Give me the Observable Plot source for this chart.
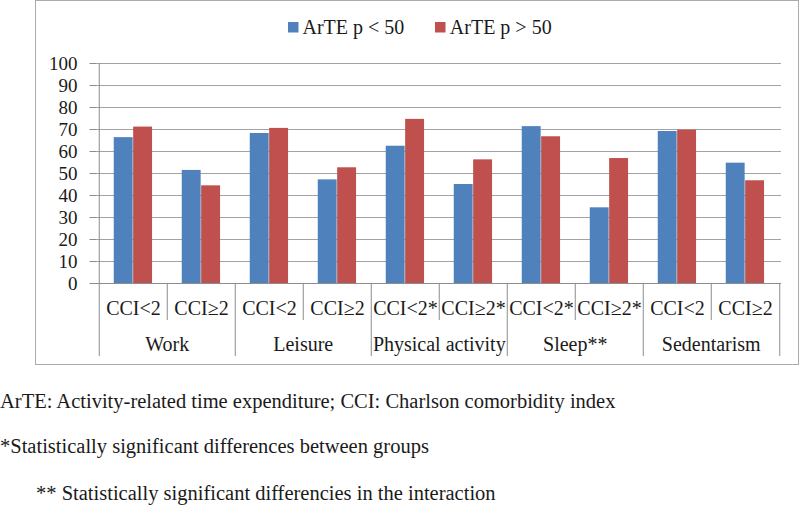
<!DOCTYPE html>
<html><head><meta charset="utf-8">
<script src="https://cdn.jsdelivr.net/npm/d3@7"></script>
<script src="https://cdn.jsdelivr.net/npm/@observablehq/plot@0.6"></script>
<style>
body{margin:0;background:#fff;width:800px;height:506px;position:relative;overflow:hidden;color:#1a1a1a}
#frame{position:absolute;left:35px;top:0px;width:762px;height:363px;border:1.5px solid #ababab;}
#chart{position:absolute;left:0;top:0}
#legend{position:absolute;left:288px;top:11px}
.note{position:absolute;font-size:20.5px;line-height:20px;white-space:nowrap}
</style></head><body style="font-family:'Liberation Serif',serif">
<div id="frame"></div>
<div id="chart"></div>
<div id="legend"></div>
<div class="note" id="n1" style="left:0;top:391px;font-family:'Liberation Serif',serif"></div>
<div class="note" id="n2" style="left:0;top:436px;font-family:'Liberation Serif',serif"></div>
<div class="note" id="n3" style="left:36px;top:482.5px;font-family:'Liberation Serif',serif"></div>
<script>
const groups = ["Work", "Leisure", "Physical activity", "Sleep**", "Sedentarism"];
const subs = [["CCI<2", "CCI≥2"], ["CCI<2", "CCI≥2"], ["CCI<2*", "CCI≥2*"], ["CCI<2*", "CCI≥2*"], ["CCI<2", "CCI≥2"]];
const series = ["ArTE p < 50", "ArTE p > 50"];
const colors = ["#4F81BD", "#C0504D"];
const bluePct = [66.3, 51.4, 68.2, 47.1, 62.4, 45.0, 71.3, 34.4, 69.1, 54.7];
const redPct = [71.1, 44.4, 70.5, 52.6, 74.6, 56.2, 66.7, 56.8, 69.7, 46.7];
const yTicks = [0, 10, 20, 30, 40, 50, 60, 70, 80, 90, 100];
const notes = [
  "ArTE: Activity-related time expenditure; CCI: Charlson comorbidity index",
  "*Statistically significant differences between groups",
  "** Statistically significant differencies in the interaction"
];

const FONT = "'Liberation Serif', serif";
const keys = [];
groups.forEach((g, i) => subs[i].forEach(s => keys.push(g + "|" + s)));
const rows = keys.flatMap((k, i) => [
  {key: k, series: series[0], value: bluePct[i]},
  {key: k, series: series[1], value: redPct[i]}
]);

const BW = 68.5, barW = 19.4, off = 14.75;
const gridC = "#a3a3a3", axisC = "#8c8c8c";

const chart = Plot.plot({
  width: 800, height: 370,
  marginTop: 63, marginBottom: 87, marginLeft: 96, marginRight: 19,
  style: {fontFamily: FONT, fontSize: "20px", color: "#1a1a1a", background: "transparent", overflow: "visible"},
  x: {domain: keys, padding: 0},
  y: {domain: [0, 100]},
  color: {domain: series, range: colors},
  marks: [
    Plot.gridY(yTicks, {stroke: gridC, strokeOpacity: 1}),
    Plot.axisY(yTicks, {tickSize: 6.5, tickPadding: 12.5, fontSize: 19, stroke: axisC, label: null}),
    Plot.barY(rows.filter(d => d.series === series[0]), {x: "key", y: "value", fill: "series", insetLeft: off, insetRight: BW - off - barW}),
    Plot.barY(rows.filter(d => d.series === series[1]), {x: "key", y: "value", fill: "series", insetLeft: off + barW, insetRight: BW - off - 2 * barW}),
    Plot.ruleY([0], {stroke: axisC}),
    Plot.axisX({tickSize: 0, tickPadding: 16.8, tickFormat: k => k.split("|")[1], fontSize: 20, label: null}),
    Plot.ruleX([keys[0]], {dx: -BW / 2, insetBottom: -73, stroke: axisC}),
    Plot.ruleX(keys.filter((k, i) => i % 2 === 0 && i > 0), {dx: -BW / 2, insetTop: 220, insetBottom: -73, stroke: axisC}),
    Plot.ruleX([keys[keys.length - 1]], {dx: BW / 2, insetTop: 220, insetBottom: -73, stroke: axisC}),
    Plot.ruleX(keys.filter((k, i) => i % 2 === 1), {dx: -BW / 2, insetTop: 220, insetBottom: -37, stroke: axisC}),
    Plot.text(groups, {x: (g, i) => keys[2 * i + 1], dx: -BW / 2, frameAnchor: "bottom", dy: 60.6, text: d => d, fontSize: 20, lineAnchor: "middle"})
  ]
});
chart.setAttribute("font-family", FONT);
chart.querySelectorAll("text").forEach(t => { t.style.fontFamily = FONT; });
document.getElementById("chart").appendChild(chart);

const leg = Plot.legend({color: {domain: series, range: colors}, legend: "swatches", swatchSize: 10.5, className: "lg"});
leg.style.fontFamily = FONT;
leg.style.fontSize = "20px";
leg.style.margin = "0";
leg.style.color = "#1a1a1a";
leg.querySelectorAll("span, div").forEach(e => { e.style.fontFamily = FONT; });
leg.querySelectorAll("svg").forEach(s => { s.style.marginRight = "4px"; });
Array.from(leg.children).forEach(c => { if (c.tagName !== "STYLE") c.style.marginRight = "31px"; });
document.getElementById("legend").appendChild(leg);

["n1", "n2", "n3"].forEach((id, i) => document.getElementById(id).textContent = notes[i]);
</script>
</body></html>
